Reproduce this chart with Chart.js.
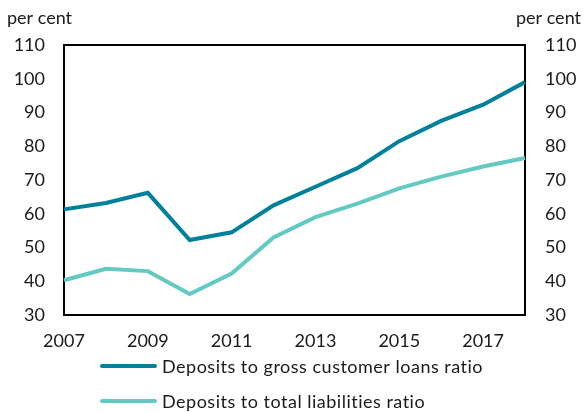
<!DOCTYPE html>
<html>
<head>
<meta charset="utf-8">
<script src="https://cdn.jsdelivr.net/npm/chart.js@4"></script>
<style>
  html, body { margin: 0; padding: 0; background: #fff; }
  #wrap { width: 583px; height: 412px; }
</style>
</head>
<body>
<div id="wrap"><canvas id="mainCanvas" width="583" height="412"></canvas></div>
<script>
const years = ["2007", "2008", "2009", "2010", "2011", "2012", "2013", "2014", "2015", "2016", "2017", "2018"];
const loansRatio = [61.3, 63.2, 66.2, 52.2, 54.5, 62.5, 68, 73.5, 81.5, 87.5, 92.3, 99];
const liabilitiesRatio = [40.3, 43.7, 43, 36.2, 42.3, 53, 59, 63, 67.5, 71, 74, 76.5];
const seriesNames = ["Deposits to gross customer loans ratio", "Deposits to total liabilities ratio"];
const unitLabel = "per cent";

const darkTeal = "#00819b";
const lightTeal = "#63c9c3";
const font = "Lato";

// frame around plot, unit labels and the legend underneath
const extras = {
    id: 'extras',
    afterDraw(chart) {
        const ctx = chart.ctx;
        const a = chart.chartArea;
        ctx.save();
        ctx.strokeStyle = "#000";
        ctx.lineWidth = 2;
        ctx.beginPath();
        ctx.moveTo(a.left - 1, a.top);
        ctx.lineTo(a.right + 1, a.top);
        ctx.stroke();

        ctx.fillStyle = "#1a1a1a";
        ctx.font = "18px " + font;
        ctx.textBaseline = "middle";
        ctx.textAlign = "left";
        ctx.fillText(unitLabel, 7, 18);
        ctx.textAlign = "right";
        ctx.fillText(unitLabel, 581, 18);

        ctx.textAlign = "left";
        ctx.font = "18px " + font;
        ctx.letterSpacing = "0.5px";
        chart.data.datasets.forEach((ds, i) => {
            const y = 366 + i * 35;
            ctx.strokeStyle = ds.borderColor;
            ctx.lineWidth = 4;
            ctx.lineCap = "round";
            ctx.beginPath();
            ctx.moveTo(102, y);
            ctx.lineTo(155, y);
            ctx.stroke();
            ctx.fillStyle = "#1a1a1a";
            ctx.fillText(ds.label, 162, y + 1);
        });
        ctx.restore();
    }
};

const chart = new Chart(
    document.getElementById('mainCanvas'),
    {
        type: 'line',
        data: {
            labels: years,
            datasets: [
                {
                    label: seriesNames[0],
                    data: loansRatio,
                    borderColor: darkTeal,
                    borderWidth: 4,
                    pointRadius: 0,
                    tension: 0,
                    yAxisID: 'y'
                },
                {
                    label: seriesNames[1],
                    data: liabilitiesRatio,
                    borderColor: lightTeal,
                    borderWidth: 4,
                    pointRadius: 0,
                    tension: 0,
                    yAxisID: 'y'
                }
            ]
        },
        options: {
            responsive: false,
            animation: false,
            layout: { padding: { top: 45, left: 0, right: 0, bottom: 0 } },
            plugins: {
                legend: { display: false },
                tooltip: { enabled: false }
            },
            scales: {
                x: {
                    offset: false,
                    grid: { display: false, drawTicks: false },
                    border: { display: true, color: "#000", width: 2 },
                    ticks: {
                        autoSkip: false,
                        maxRotation: 0,
                        padding: 15,
                        color: "#1a1a1a",
                        font: { family: font, size: 18 },
                        callback: function(v, i) { return i % 2 === 0 ? years[i] : ""; }
                    },
                    afterFit(s) { s.height = 97; }
                },
                y: {
                    position: 'left',
                    min: 30, max: 110,
                    grid: { display: false, drawTicks: false },
                    border: { display: true, color: "#000", width: 2 },
                    ticks: {
                        stepSize: 10,
                        padding: 19,
                        color: "#1a1a1a",
                        font: { family: font, size: 18 }
                    },
                    afterFit(s) { s.width = 64; }
                },
                y2: {
                    position: 'right',
                    min: 30, max: 110,
                    grid: { display: false, drawTicks: false },
                    border: { display: true, color: "#000", width: 2 },
                    ticks: {
                        stepSize: 10,
                        padding: 20,
                        color: "#1a1a1a",
                        font: { family: font, size: 18 }
                    },
                    afterFit(s) { s.width = 58; }
                }
            }
        },
        plugins: [extras]
    }
);
</script>
</body>
</html>
